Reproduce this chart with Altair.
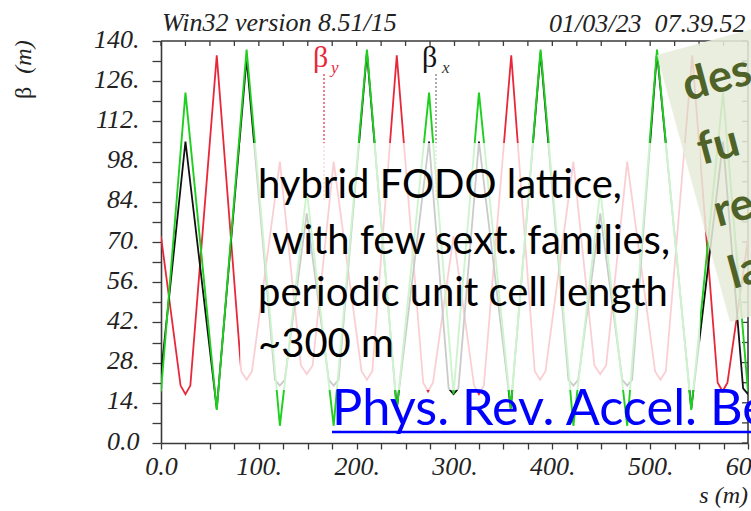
import altair as alt
import pandas as pd

# ---- optics along the ring, s in metres ----
# beta_y (red)
s_by = [0, 20, 25, 30, 57, 82, 87.5, 93, 121.5, 143, 149, 155, 176.5, 205, 210.5, 216, 241, 268, 273, 278, 299,
        320, 325, 330, 358, 382, 387.5, 393, 421.5, 443, 449, 455, 476.5, 505, 510.5, 516, 543, 569, 574, 579, 600]
beta_y = [72, 20, 17, 20, 135, 25, 22, 25, 98, 27, 24, 27, 98, 25, 22, 25, 135, 21, 18, 21, 72,
          20, 17, 20, 135, 25, 22, 25, 98, 27, 24, 27, 98, 25, 22, 25, 135, 21, 18, 21, 71]

# beta_x (black)
s_bx = [0, 25, 57, 87.5, 116.5, 121.5, 126.5, 149, 171.5, 176.5, 181.5, 210.5, 241, 274, 294, 299, 304,
        325, 357.5, 388, 416.5, 421.5, 426.5, 449, 471.5, 476.5, 481.5, 507, 542, 574.5, 595, 600]
beta_x = [24, 105, 12, 134, 22, 20, 22, 80, 22, 20, 22, 136, 12, 105, 19, 17, 19,
          105, 12, 136, 22, 20, 22, 80, 22, 20, 22, 136, 12, 105, 19, 17]

# beta of the compared optics (green)
s_bg = [0, 25, 57, 87.5, 121.5, 149, 176.5, 210.5, 241, 274, 299,
        325, 357.5, 388, 421.5, 449, 476.5, 507, 542, 574.5, 600]
beta_g = [18, 122, 11.5, 137, 6, 88, 6, 137, 11.5, 122, 17,
          122, 12, 137, 6, 88, 6, 137, 11.5, 122, 18]

x_tick_values = list(range(0, 601, 25))
y_tick_values = list(range(0, 141, 7))

W, H = 587, 402
SERIF = "Liberation Serif"
SANS = "Lato"
AXIS_COLOR = "#3a3a3a"

xscale = alt.Scale(domain=[0, 600], nice=False, zero=False)
yscale = alt.Scale(domain=[0, 140], nice=False, zero=False)

x_axis = alt.Axis(
    values=x_tick_values,
    labelExpr="datum.value % 100 == 0 ? (datum.value == 0 ? '0.0' : datum.value + '.') : ''",
    tickSize=6, tickWidth=1.3, tickColor=AXIS_COLOR,
    domainColor=AXIS_COLOR, domainWidth=1.6,
    labelFont=SERIF, labelFontStyle="italic", labelFontSize=26, labelColor="#222222",
    labelPadding=4, labelOverlap=False, labelFlush=False, grid=False, title=None,
)
y_axis = alt.Axis(
    values=y_tick_values,
    labelExpr="datum.value % 14 == 0 ? (datum.value == 0 ? '0.0' : datum.value + '.') : ''",
    tickSize=9, tickWidth=1.3, tickColor=AXIS_COLOR,
    domainColor=AXIS_COLOR, domainWidth=1.6,
    labelFont=SERIF, labelFontStyle="italic", labelFontSize=26, labelColor="#222222",
    labelPadding=13, labelOffset=-2, labelBaseline="middle",
    labelOverlap=False, labelFlush=False, grid=False, title=None,
)

X = alt.X("s:Q", scale=xscale, axis=x_axis, title=None)
Y = alt.Y("beta:Q", scale=yscale, axis=y_axis, title=None)

one = pd.DataFrame({"k": [0]})


def optics_line(s, b, color, width):
    df = pd.DataFrame({"s": s, "beta": b})
    return alt.Chart(df).mark_line(color=color, strokeWidth=width, clip=True).encode(x=X, y=Y)


def label(text, x, y, **mark):
    return alt.Chart(one).mark_text(**mark).encode(
        x=alt.value(x), y=alt.value(y), text=alt.value(text))


def rule(x, y, x2=None, y2=None, **mark):
    enc = {"x": alt.value(x), "y": alt.value(y)}
    if x2 is not None:
        enc["x2"] = alt.value(x2)
    if y2 is not None:
        enc["y2"] = alt.value(y2)
    return alt.Chart(one).mark_rule(**mark).encode(**enc)


layers = []

# frame: top and right edges with inward ticks
layers.append(rule(0, 0, x2=W, color=AXIS_COLOR, strokeWidth=1.6))
layers.append(rule(W, 0, y2=H, color=AXIS_COLOR, strokeWidth=1.6))
layers.append(
    alt.Chart(pd.DataFrame({"s": x_tick_values})).mark_rule(color=AXIS_COLOR, strokeWidth=1.3)
    .encode(x=X, y=alt.value(0), y2=alt.value(5)))
layers.append(
    alt.Chart(pd.DataFrame({"beta": y_tick_values})).mark_rule(color=AXIS_COLOR, strokeWidth=1.3)
    .encode(y=Y, x=alt.value(W - 6), x2=alt.value(W)))

# beta functions
layers.append(optics_line(s_by, beta_y, "#e8283a", 1.8))
layers.append(optics_line(s_bx, beta_x, "#111111", 1.8))
layers.append(optics_line(s_bg, beta_g, "#1fcf1f", 1.9))

# curve keys with dotted markers
layers.append(label("β", 152, 26, font=SERIF, fontSize=30, color="#e8283a", align="left", baseline="alphabetic"))
layers.append(label("y", 170, 32, font=SERIF, fontStyle="italic", fontSize=17, color="#e8283a", align="left", baseline="alphabetic"))
layers.append(rule(163, 33, y2=160, color="#e8283a", strokeWidth=1.2, strokeDash=[2, 2]))
layers.append(label("β", 261, 26, font=SERIF, fontSize=30, color="#111111", align="left", baseline="alphabetic"))
layers.append(label("x", 281, 32, font=SERIF, fontStyle="italic", fontSize=17, color="#333333", align="left", baseline="alphabetic"))
layers.append(rule(275, 33, y2=160, color="#777777", strokeWidth=1.2, strokeDash=[2, 2]))

# text box over the plot
layers.append(alt.Chart(one).mark_rect(color="white", opacity=0.78).encode(
    x=alt.value(79), x2=alt.value(539), y=alt.value(102), y2=alt.value(349)))

# tilted side panel
panel_path = "M -0.43 -1.45 L 2.465 -2.242 L 3.195 0.428 L 0.3 1.22 Z"
layers.append(alt.Chart(one).mark_point(
    shape=panel_path, size=40000, filled=True, color="#e7ecda", opacity=0.87, strokeWidth=0
).encode(x=alt.value(539), y=alt.value(159)))

OLIVE = "#4f6228"
for txt, px, py in [("des", 526, 60), ("fu", 541, 124), ("re", 557, 186), ("la", 572, 248)]:
    layers.append(label(txt, px, py, font=SANS, fontWeight="bold", fontSize=45, color=OLIVE,
                        angle=345, align="left", baseline="alphabetic"))

# box text
for txt, px, py in [("hybrid FODO lattice,", 97, 157),
                    ("with few sext. families,", 111, 213),
                    ("periodic unit cell length", 97, 265),
                    ("~300 m", 97, 316)]:
    layers.append(label(txt, px, py, font=SANS, fontSize=40, color="#000000",
                        align="left", baseline="alphabetic"))

# reference link
layers.append(label("Phys. Rev. Accel. Beams", 171, 384, font=SANS, fontSize=50.5, color="#0000ff",
                    align="left", baseline="alphabetic"))
layers.append(rule(171, 391, x2=600, color="#0000ff", strokeWidth=2.7))

# header and axis titles
layers.append(label("Win32 version 8.51/15", 1, -10, font=SERIF, fontStyle="italic", fontSize=26,
                    color="#222222", align="left", baseline="alphabetic"))
layers.append(label("01/03/23\u00a0 07.39.52", 388, -9, font=SERIF, fontStyle="italic", fontSize=26,
                    color="#222222", align="left", baseline="alphabetic"))
layers.append(label("β", -137, 52, font=SERIF, fontSize=24, color="#222222", angle=270,
                    align="center", baseline="middle"))
layers.append(label("(m)", -137, 16, font=SERIF, fontStyle="italic", fontSize=24, color="#222222", angle=270,
                    align="center", baseline="middle"))
layers.append(label("s (m)", 587, 462, font=SERIF, fontStyle="italic", fontSize=24, color="#222222",
                    align="right", baseline="alphabetic"))

chart = alt.layer(*layers).properties(
    width=W, height=H,
    padding={"left": 161, "top": 41, "right": 3, "bottom": 68},
    autosize=alt.AutoSizeParams(type="none"),
    background="white",
).configure_view(stroke=None)

chart.save("out.html", embed_options={"renderer": "svg", "actions": False})
